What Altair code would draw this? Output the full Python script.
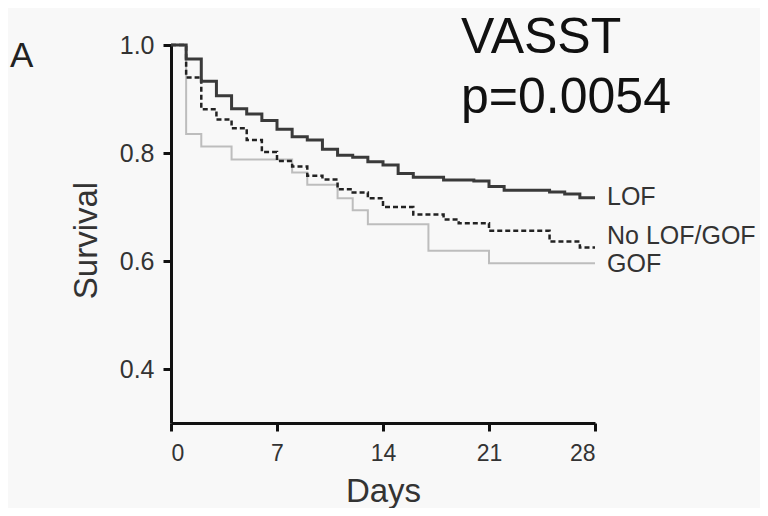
import altair as alt
import pandas as pd

# ---- data ----
lof_days = [0, 1, 2, 3, 4, 5, 6, 7, 8, 9, 10, 11, 12, 13, 14, 15, 16, 18, 20, 21, 22, 25, 26, 27, 28]
lof_surv = [1.0, 0.974, 0.933, 0.906, 0.882, 0.872, 0.86, 0.844, 0.83, 0.824, 0.807, 0.796, 0.792,
            0.784, 0.778, 0.762, 0.755, 0.75, 0.748, 0.738, 0.731, 0.728, 0.724, 0.717, 0.717]

mid_days = [0, 1, 2, 3, 4, 5, 6, 7, 8, 9, 10, 11, 12, 13, 14, 16, 18, 19, 21, 25, 27, 28]
mid_surv = [1.0, 0.94, 0.881, 0.862, 0.846, 0.824, 0.802, 0.785, 0.775, 0.758, 0.751, 0.733, 0.727,
            0.716, 0.70, 0.686, 0.677, 0.67, 0.656, 0.636, 0.625, 0.625]

gof_days = [0, 1, 2, 4, 8, 9, 11, 12, 13, 17, 21, 28]
gof_surv = [1.0, 0.835, 0.812, 0.788, 0.764, 0.741, 0.716, 0.694, 0.668, 0.619, 0.596, 0.596]

label_names = ["LOF", "No LOF/GOF", "GOF"]
label_surv = [0.718, 0.646, 0.594]

x_ticks = [0, 7, 14, 21, 28]
y_ticks = [0.4, 0.6, 0.8, 1.0]

FONT = "Liberation Sans"

lof = pd.DataFrame({"day": lof_days, "surv": lof_surv})
mid = pd.DataFrame({"day": mid_days, "surv": mid_surv})
gof = pd.DataFrame({"day": gof_days, "surv": gof_surv})
labels = pd.DataFrame({"name": label_names, "surv": label_surv, "day": [28] * 3})

x_enc = alt.X(
    "day:Q",
    scale=alt.Scale(domain=[0, 28], nice=False, zero=False),
    axis=alt.Axis(values=x_ticks, title="Days", grid=False, labelFontSize=23,
                  labelPadding=11, titleFontSize=33, titleY=78, titleBaseline="alphabetic"),
)
y_enc = alt.Y(
    "surv:Q",
    scale=alt.Scale(domain=[0.3, 1.0], nice=False, zero=False),
    axis=alt.Axis(values=y_ticks, format=".1f", title="Survival", grid=False,
                  labelFontSize=25, labelPadding=9, titleFontSize=33,
                  titleX=-85, titleY=195, titleBaseline="middle", titleAlign="center", titleAngle=270),
)

gof_line = alt.Chart(gof).mark_line(interpolate="step-after", color="#bdbdbd", strokeWidth=2).encode(
    x=x_enc, y=y_enc)
mid_line = alt.Chart(mid).mark_line(interpolate="step-after", color="#222222", strokeWidth=2.5,
                                    strokeDash=[5, 3]).encode(x="day:Q", y="surv:Q")
lof_line = alt.Chart(lof).mark_line(interpolate="step-after", color="#3a3a3a", strokeWidth=3).encode(
    x="day:Q", y="surv:Q")

lab = alt.Chart(labels).mark_text(align="left", baseline="middle", dx=12, fontSize=25,
                                  font=FONT, color="#333333").encode(
    x="day:Q", y="surv:Q", text="name:N")

title = alt.Chart(pd.DataFrame({"t": [["VASST", "p=0.0054"]]})).mark_text(
    align="left", baseline="alphabetic", fontSize=50, font=FONT, color="#111111", lineHeight=60
).encode(x=alt.value(290), y=alt.value(8), text="t")

panel = alt.Chart(pd.DataFrame({"t": ["A"]})).mark_text(
    align="left", baseline="alphabetic", fontSize=35, font=FONT, color="#222222"
).encode(x=alt.value(-161), y=alt.value(22), text="t:N")

chart = alt.layer(gof_line, mid_line, lof_line, lab, title, panel).properties(
    width=424, height=378,
    autosize=alt.AutoSizeParams(type="none"),
    padding={"left": 163, "top": 37, "right": 165, "bottom": 85},
    background="#f8f8f8",
).configure_view(stroke=None).configure_axis(
    domainColor="#111111", domainWidth=3, tickColor="#111111", tickWidth=3, tickSize=8,
    labelFont=FONT, titleFont=FONT, labelColor="#333333", titleColor="#333333",
    titleFontWeight="normal",
)

chart.save("out.html", embed_options={"renderer": "svg", "actions": False})
